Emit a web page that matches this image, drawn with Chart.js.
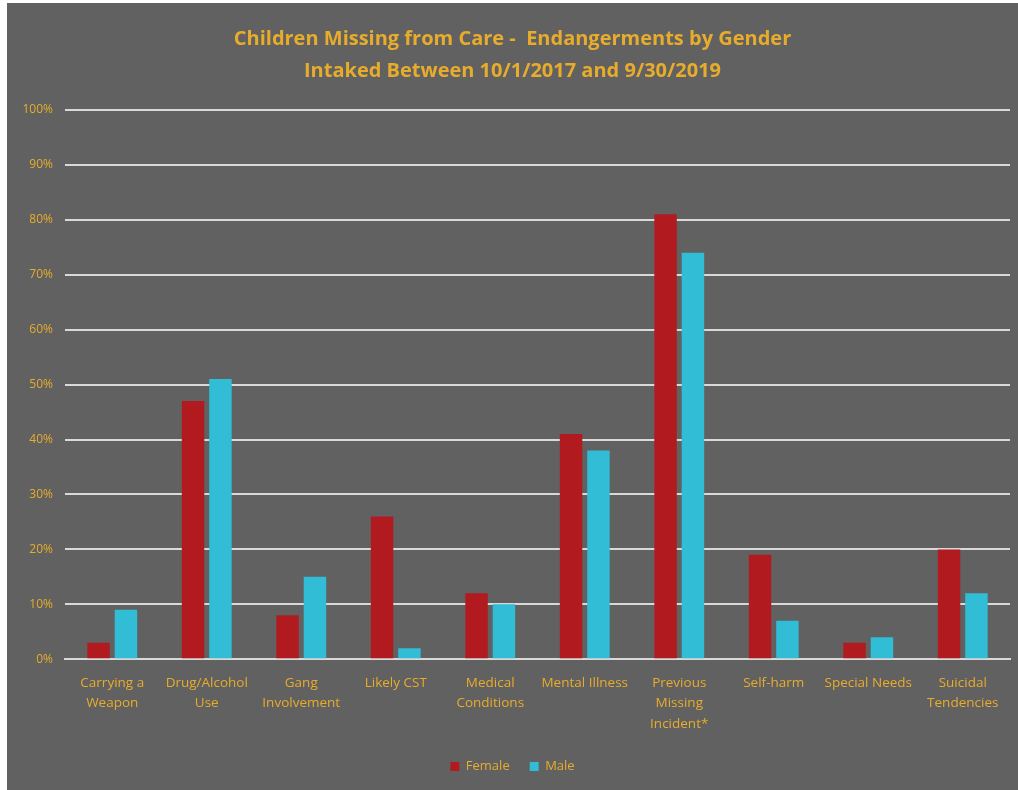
<!DOCTYPE html>
<html lang="en">
  <head>
    <meta charset="UTF-8" />
    <title>Children Missing from Care - Endangerments by Gender</title>
    <script src="https://cdn.jsdelivr.net/npm/chart.js"></script>
    <style>
      html,
      body {
        margin: 0;
        padding: 0;
        background: #ffffff;
      }

      #wrap {
        position: absolute;
        left: 7px;
        top: 3px;
        width: 1011px;
        height: 787px;
        background: #616161;
      }
    </style>
  </head>

  <body>
    <div id="wrap">
      <canvas id="endangermentChart"></canvas>
    </div>

    <script>
      const categories = [
        ["Carrying a", "Weapon"],
        ["Drug/Alcohol", "Use"],
        ["Gang", "Involvement"],
        "Likely CST",
        ["Medical", "Conditions"],
        "Mental Illness",
        ["Previous", "Missing", "Incident*"],
        "Self-harm",
        "Special Needs",
        ["Suicidal", "Tendencies"],
      ];
      const femaleValues = [3, 47, 8, 26, 12, 41, 81, 19, 3, 20];
      const maleValues = [9, 51, 15, 2, 10, 38, 74, 7, 4, 12];
      const titleLines = [
        "Children Missing from Care -  Endangerments by Gender",
        "Intaked Between 10/1/2017 and 9/30/2019",
      ];

      const gold = "#e8ac2c";
      const fontFamily = "'Open Sans', sans-serif";

      const ctx = document.getElementById("endangermentChart").getContext("2d");
      new Chart(ctx, {
        type: "bar",
        data: {
          labels: categories,
          datasets: [
            {
              label: "Female",
              data: femaleValues,
              backgroundColor: "#b11b20",
              categoryPercentage: 0.58,
              barPercentage: 0.82,
            },
            {
              label: "Male",
              data: maleValues,
              backgroundColor: "#31bdd6",
              categoryPercentage: 0.58,
              barPercentage: 0.82,
            },
          ],
        },
        options: {
          responsive: true,
          maintainAspectRatio: false,
          animation: false,
          layout: {
            padding: { left: 8, right: 8, top: 20, bottom: 7 },
          },
          plugins: {
            title: {
              display: true,
              text: titleLines,
              color: gold,
              font: { family: fontFamily, size: 20, weight: "bold", lineHeight: 1.6 },
              padding: { top: 0, bottom: 23 },
            },
            legend: {
              position: "bottom",
              labels: {
                color: gold,
                font: { family: fontFamily, size: 13 },
                boxWidth: 9,
                boxHeight: 9,
                padding: 20,
              },
            },
            tooltip: { enabled: false },
          },
          scales: {
            x: {
              grid: { display: false },
              border: { color: "#d9d9d9", width: 2 },
              ticks: {
                color: gold,
                font: { family: fontFamily, size: 13.5, lineHeight: 1.55 },
                maxRotation: 0,
                autoSkip: false,
                padding: 5,
              },
            },
            y: {
              min: 0,
              max: 100,
              ticks: {
                stepSize: 10,
                color: gold,
                font: { family: fontFamily, size: 12 },
                padding: 12,
                callback: (v) => v + "%",
              },
              grid: {
                color: "#d9d9d9",
                lineWidth: 2,
                drawTicks: false,
              },
              border: { display: false },
              afterFit: (scale) => {
                scale.width = 50;
              },
            },
          },
        },
      });
    </script>
  </body>
</html>
